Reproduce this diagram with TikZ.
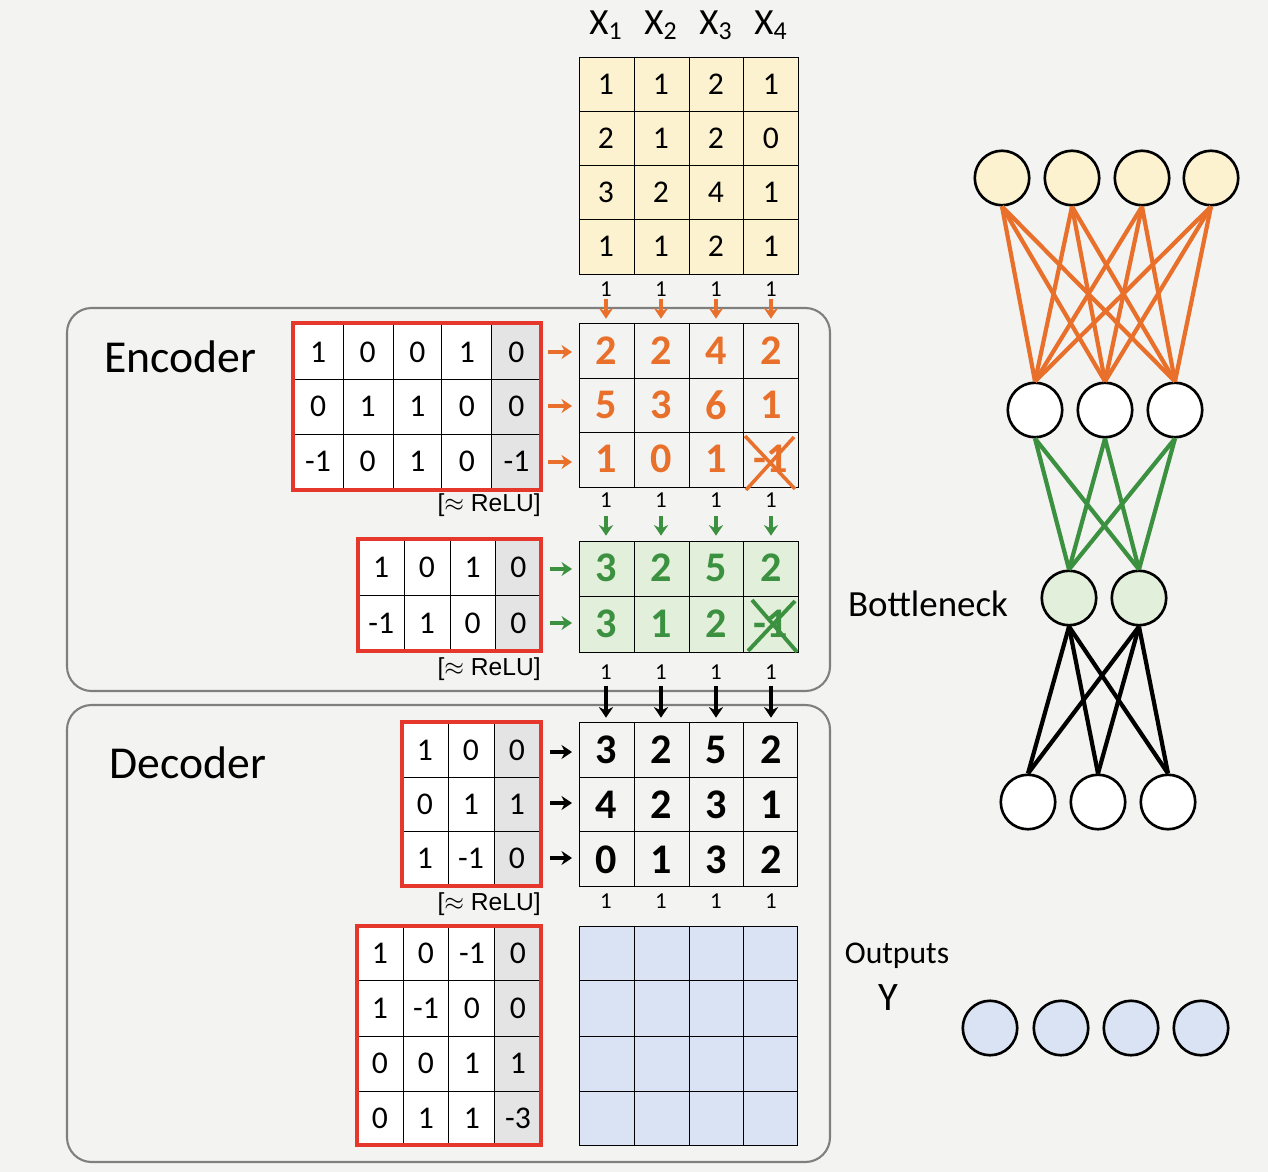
\documentclass[tikz,border=0pt]{standalone}
\usepackage{fontspec}
\setmainfont{Carlito}
\newfontfamily\helv{Liberation Sans}
\usetikzlibrary{arrows.meta}
\definecolor{paper}{HTML}{F3F3F2}
\definecolor{inyellow}{HTML}{FDF2D0}
\definecolor{bngreen}{HTML}{E2EFDA}
\definecolor{outblue}{HTML}{DAE3F3}
\definecolor{penorange}{HTML}{E8702A}
\definecolor{pengreen}{HTML}{3C9140}
\definecolor{wred}{HTML}{E6372C}
\definecolor{boxgray}{HTML}{7F7F7F}
\definecolor{lastcol}{HTML}{E4E4E4}
\tikzset{
  cellnum/.style={font=\fontsize{18}{20}\selectfont, inner sep=0pt},
  handnum/.style={font=\fontsize{24}{26}\selectfont\bfseries, inner sep=0pt},
  onelbl/.style={font=\fontsize{13}{15}\selectfont, inner sep=0pt},
  relulbl/.style={font=\helv\fontsize{14}{16}\selectfont, inner sep=0pt, anchor=east},
  sectlbl/.style={font=\fontsize{26}{28}\selectfont, inner sep=0pt},
  redframe/.style={draw=wred, line width=2.4pt},
  penarrow/.style={line width=2pt, -{Stealth[length=6pt,width=8pt]}},
  neuron/.style={circle, draw, line width=1.5pt, minimum size=31pt, inner sep=0pt},
  link/.style={line width=2.4pt}
}
\begin{document}
\begin{tikzpicture}[x=0.02cm, y=-0.02cm]
  \fill[paper] (0,0) rectangle (1268,1172);
  \useasboundingbox (0,0) rectangle (1268,1172);
  % Encoder and decoder boxes
  \draw[boxgray, line width=1.2pt, rounded corners=14pt] (67,308) rectangle (830,691);
  \draw[boxgray, line width=1.2pt, rounded corners=14pt] (67,705) rectangle (830,1162);
  \node[sectlbl] (enclbl) at (180,357) {Encoder};
  \node[sectlbl] (declbl) at (188,763) {Decoder};
  % Input matrix X
  \fill[inyellow] (579,57) rectangle (798,274);
  \draw (579,57) rectangle (798,274);
  \foreach \x in {634,689,743} \draw (\x,57) -- (\x,274);
  \foreach \y in {111,165,219} \draw (579,\y) -- (798,\y);
  \foreach \x [count=\c] in {606,661,716,771}
    \node[font=\fontsize{21}{23}\selectfont, inner sep=0pt] (xh\c) at (\x,25) {X\textsubscript{\c}};
  \foreach \v [count=\c] in {1,1,2,1} \node[cellnum] (x1-\c) at (551+55*\c,84) {\v};
  \foreach \v [count=\c] in {2,1,2,0} \node[cellnum] (x2-\c) at (551+55*\c,138) {\v};
  \foreach \v [count=\c] in {3,2,4,1} \node[cellnum] (x3-\c) at (551+55*\c,192) {\v};
  \foreach \v [count=\c] in {1,1,2,1} \node[cellnum] (x4-\c) at (551+55*\c,246) {\v};
  % Encoder weights, layer 1
  \fill[white] (293,323) rectangle (541,490);
  \fill[lastcol] (491,323) rectangle (541,490);
  \foreach \x in {343,393,441,491} \draw (\x,323) -- (\x,490);
  \foreach \y in {379,434} \draw (293,\y) -- (541,\y);
  \foreach \v [count=\c] in {1,0,0,1,0} \node[cellnum] (wa1-\c) at (268.5+49.6*\c,352) {\v};
  \foreach \v [count=\c] in {0,1,1,0,0} \node[cellnum] (wa2-\c) at (268.5+49.6*\c,406) {\v};
  \foreach \v [count=\c] in {-1,0,1,0,-1} \node[cellnum] (wa3-\c) at (268.5+49.6*\c,461) {\v};
  \draw[redframe] (293,323) rectangle (541,490);
  % Hidden layer 1 values
  \draw (579,323) rectangle (798,487);
  \foreach \x in {634,689,743} \draw (\x,323) -- (\x,487);
  \foreach \y in {378,432} \draw (579,\y) -- (798,\y);
  \foreach \x [count=\c] in {606,661,716,771} {
    \node[onelbl] (ba\c) at (\x,289) {1};
    \draw[penarrow, penorange] (ba\c.south) ++(0,2) -- ++(0,20);
  }
  \foreach \v [count=\c] in {2,2,4,2} \node[handnum, penorange] (ha1-\c) at (551+55*\c,351) {\v};
  \foreach \v [count=\c] in {5,3,6,1} \node[handnum, penorange] (ha2-\c) at (551+55*\c,405) {\v};
  \foreach \v [count=\c] in {1,0,1} \node[handnum, penorange] (ha3-\c) at (551+55*\c,459) {\v};
  \node[handnum, penorange] (ha3-4) at (771,459) {-1};
  \draw[penorange, line width=2pt] (745,436) -- (795,489) (794,437) -- (746,490);
  \foreach \y in {352,406,462} \draw[penarrow, penorange] (548,\y) -- ++(24,0);
  \node[relulbl] (relua) at (541,505) {[$\approx$ ReLU]};
  % Encoder weights, layer 2
  \fill[white] (358,539) rectangle (541,651);
  \fill[lastcol] (495,539) rectangle (541,651);
  \foreach \x in {404,450,495} \draw (\x,539) -- (\x,651);
  \draw (358,595) -- (541,595);
  \foreach \v [count=\c] in {1,0,1,0} \node[cellnum] (wb1-\c) at (335.5+45.75*\c,567) {\v};
  \foreach \v [count=\c] in {-1,1,0,0} \node[cellnum] (wb2-\c) at (335.5+45.75*\c,623) {\v};
  \draw[redframe] (358,539) rectangle (541,651);
  % Bottleneck values
  \fill[bngreen] (579,541) rectangle (798,652);
  \draw (579,541) rectangle (798,652);
  \foreach \x in {634,689,743} \draw (\x,541) -- (\x,652);
  \draw (579,596) -- (798,596);
  \foreach \x [count=\c] in {606,661,716,771} {
    \node[onelbl] (bb\c) at (\x,500) {1};
    \draw[penarrow, pengreen] (bb\c.south) ++(0,8) -- ++(0,20);
  }
  \foreach \v [count=\c] in {3,2,5,2} \node[handnum, pengreen] (hb1-\c) at (551+55*\c,568) {\v};
  \foreach \v [count=\c] in {3,1,2} \node[handnum, pengreen] (hb2-\c) at (551+55*\c,624) {\v};
  \node[handnum, pengreen] (hb2-4) at (771,624) {-1};
  \draw[pengreen, line width=2.2pt] (752,600) -- (797,652) (795,601) -- (748,651);
  \foreach \y in {569,623} \draw[penarrow, pengreen] (550,\y) -- ++(22,0);
  \node[relulbl] (relub) at (541,669) {[$\approx$ ReLU]};
  % Decoder weights, layer 1
  \fill[white] (402,722) rectangle (541,886);
  \fill[lastcol] (494,722) rectangle (541,886);
  \foreach \x in {448,494} \draw (\x,722) -- (\x,886);
  \foreach \y in {777,831} \draw (402,\y) -- (541,\y);
  \foreach \v [count=\c] in {1,0,0} \node[cellnum] (wc1-\c) at (379+46*\c,750) {\v};
  \foreach \v [count=\c] in {0,1,1} \node[cellnum] (wc2-\c) at (379+46*\c,804) {\v};
  \foreach \v [count=\c] in {1,-1,0} \node[cellnum] (wc3-\c) at (379+46*\c,858) {\v};
  \draw[redframe] (402,722) rectangle (541,886);
  % Hidden layer 3 values
  \draw (579,722) rectangle (797,886);
  \foreach \x in {634,689,743} \draw (\x,722) -- (\x,886);
  \foreach \y in {777,831} \draw (579,\y) -- (797,\y);
  \foreach \x [count=\c] in {606,661,716,771} {
    \node[onelbl] (bc\c) at (\x,672) {1};
    \draw[penarrow, black] (bc\c.south) ++(0,6) -- ++(0,32);
  }
  \foreach \v [count=\c] in {3,2,5,2} \node[handnum] (hc1-\c) at (551+55*\c,750) {\v};
  \foreach \v [count=\c] in {4,2,3,1} \node[handnum] (hc2-\c) at (551+55*\c,805) {\v};
  \foreach \v [count=\c] in {0,1,3,2} \node[handnum] (hc3-\c) at (551+55*\c,860) {\v};
  \foreach \y in {752,803,858} \draw[penarrow, black] (550,\y) -- ++(22,0);
  \node[relulbl] (reluc) at (541,904) {[$\approx$ ReLU]};
  % Decoder weights, layer 2
  \fill[white] (357,926) rectangle (541,1145);
  \fill[lastcol] (494,926) rectangle (541,1145);
  \foreach \x in {403,448,494} \draw (\x,926) -- (\x,1145);
  \foreach \y in {980,1036,1091} \draw (357,\y) -- (541,\y);
  \foreach \v [count=\c] in {1,0,-1,0} \node[cellnum] (wd1-\c) at (334+46*\c,953) {\v};
  \foreach \v [count=\c] in {1,-1,0,0} \node[cellnum] (wd2-\c) at (334+46*\c,1008) {\v};
  \foreach \v [count=\c] in {0,0,1,1} \node[cellnum] (wd3-\c) at (334+46*\c,1063) {\v};
  \foreach \v [count=\c] in {0,1,1,-3} \node[cellnum] (wd4-\c) at (334+46*\c,1118) {\v};
  \draw[redframe] (357,926) rectangle (541,1145);
  % Output matrix
  \fill[outblue] (579,926) rectangle (797,1145);
  \draw (579,926) rectangle (797,1145);
  \foreach \x in {634,689,743} \draw (\x,926) -- (\x,1145);
  \foreach \y in {980,1036,1091} \draw (579,\y) -- (797,\y);
  \foreach \x [count=\c] in {606,661,716,771} \node[onelbl] (bd\c) at (\x,901) {1};
  % Network
  \foreach \x [count=\c] in {1002,1072,1142,1211} \node[neuron, fill=inyellow] (i\c) at (\x,178) {};
  \foreach \x [count=\c] in {1035,1105,1175} \node[neuron, fill=white] (h\c) at (\x,410) {};
  \foreach \x [count=\c] in {1069,1139} \node[neuron, fill=bngreen] (b\c) at (\x,598) {};
  \foreach \x [count=\c] in {1028,1098,1168} \node[neuron, fill=white] (d\c) at (\x,802) {};
  \foreach \x [count=\c] in {990,1061,1131,1201} \node[neuron, fill=outblue] (o\c) at (\x,1028) {};
  \foreach \a in {1,...,4} \foreach \b in {1,2,3}
    \draw[link, penorange] (i\a.south) -- (h\b.north);
  \foreach \a in {1,2,3} \foreach \b in {1,2}
    \draw[link, pengreen] (h\a.south) -- (b\b.north);
  \foreach \a in {1,2} \foreach \b in {1,2,3}
    \draw[link, black] (b\a.south) -- (d\b.north);
  \node[font=\fontsize{21}{23}\selectfont, inner sep=0pt] (bnlbl) at (928,604) {Bottleneck};
  \node[font=\fontsize{18}{20}\selectfont, inner sep=0pt] (outlbl) at (897,956) {Outputs};
  \node[font=\fontsize{23}{25}\selectfont, inner sep=0pt] (ylbl) at (888,998) {Y};
\end{tikzpicture}
\end{document}
